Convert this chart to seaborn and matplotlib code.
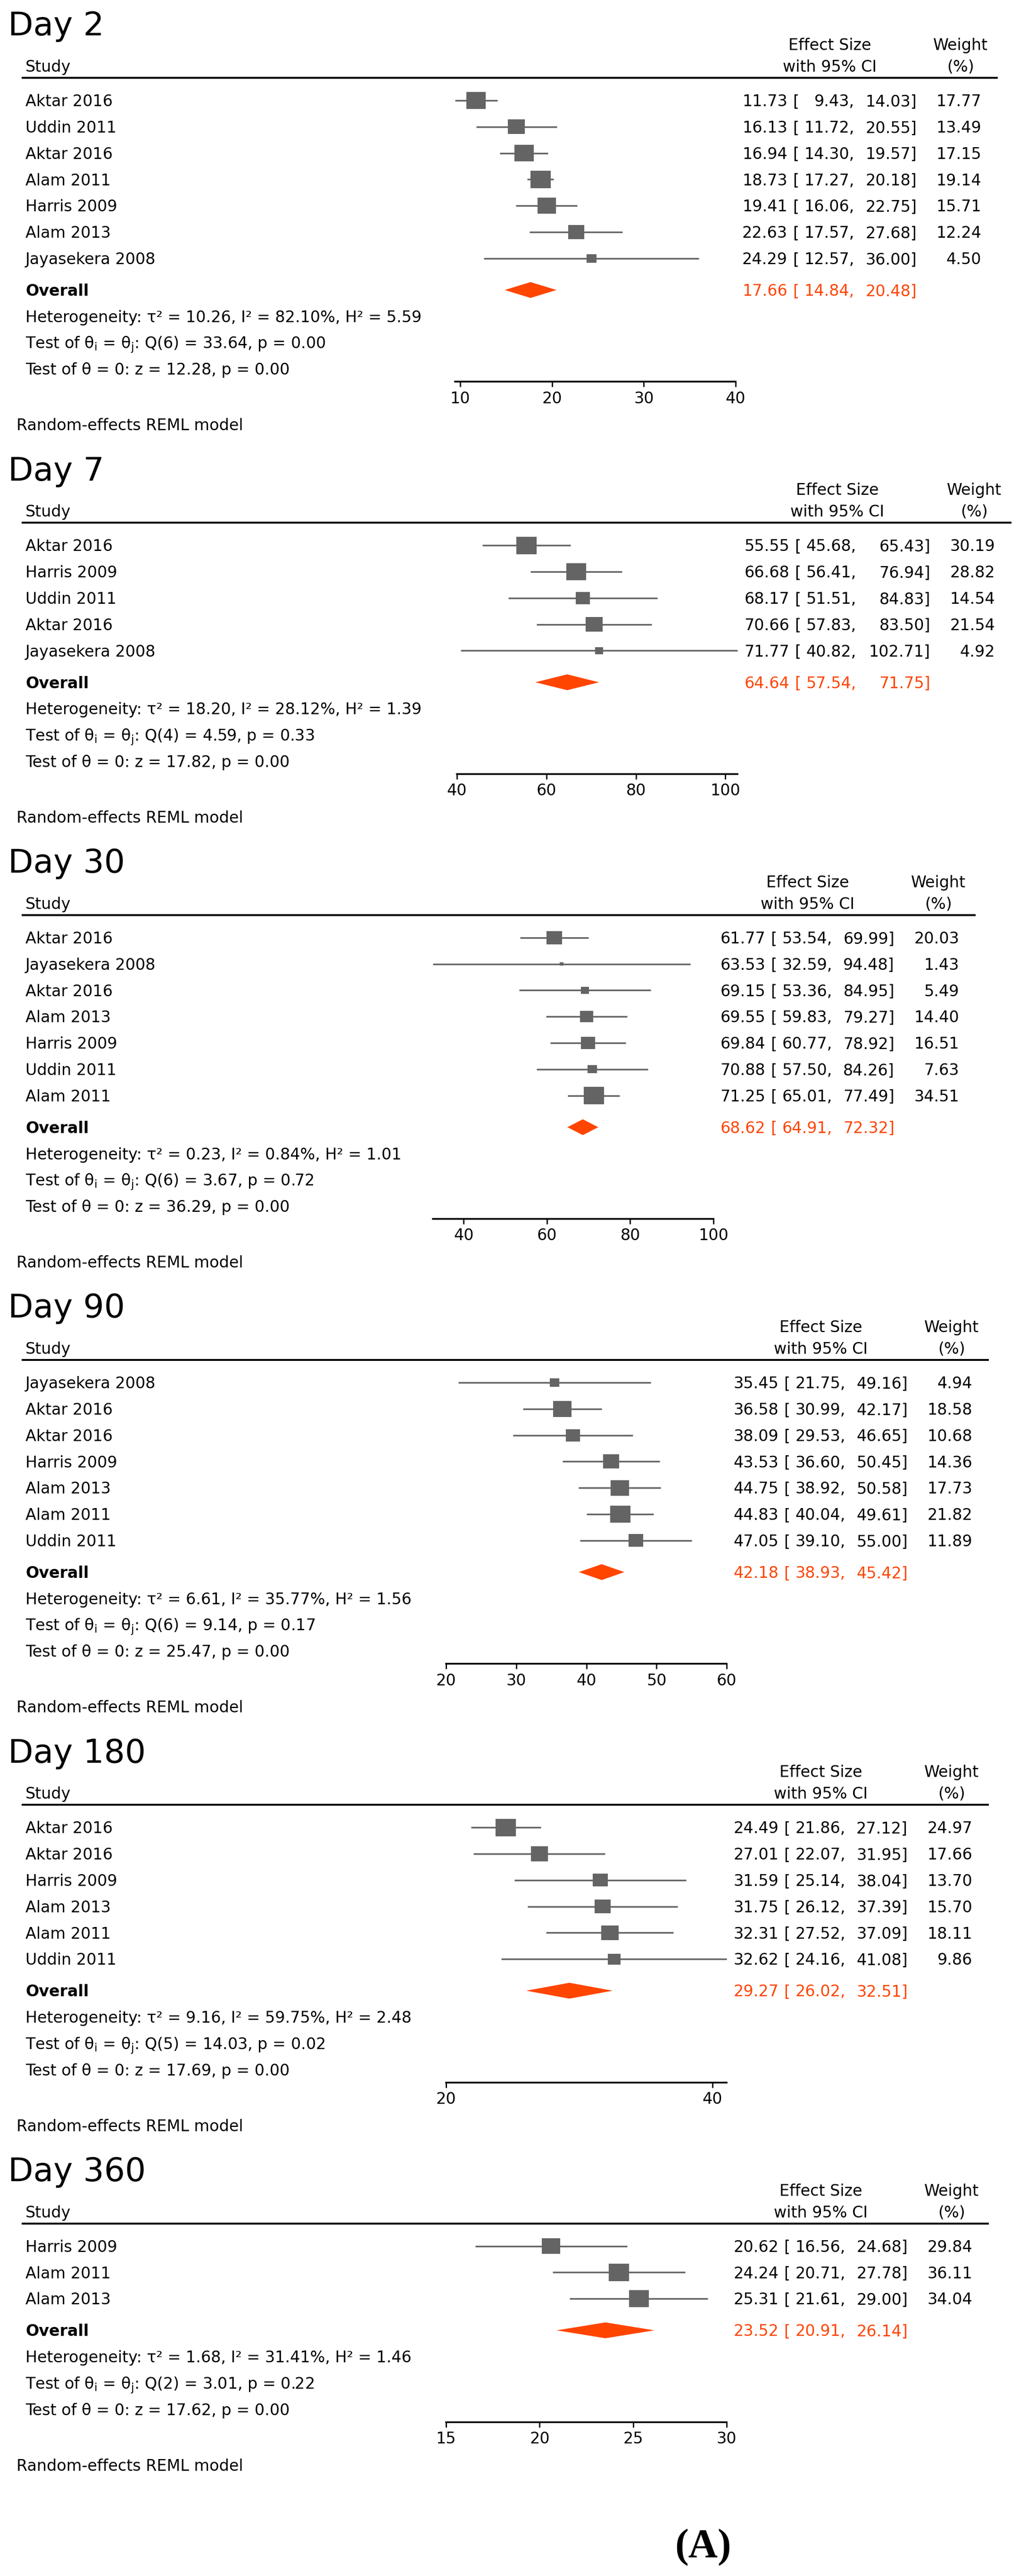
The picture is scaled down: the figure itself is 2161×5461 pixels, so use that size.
import numpy as np
import matplotlib
matplotlib.use("Agg")
import matplotlib.pyplot as plt
from matplotlib.lines import Line2D
from matplotlib.path import Path
import seaborn as sns

# ---------------- data ----------------
day2_studies = ["Aktar 2016", "Uddin 2011", "Aktar 2016", "Alam 2011", "Harris 2009", "Alam 2013", "Jayasekera 2008"]
day2_es = [11.73, 16.13, 16.94, 18.73, 19.41, 22.63, 24.29]
day2_lo = [9.43, 11.72, 14.30, 17.27, 16.06, 17.57, 12.57]
day2_hi = [14.03, 20.55, 19.57, 20.18, 22.75, 27.68, 36.00]
day2_wt = [17.77, 13.49, 17.15, 19.14, 15.71, 12.24, 4.50]
day2_overall = [17.66, 14.84, 20.48]
day2_het = [10.26, 82.10, 5.59]
day2_q = [6, 33.64, 0.00]
day2_z = [12.28, 0.00]
day2_ticks = [10, 20, 30, 40]

day7_studies = ["Aktar 2016", "Harris 2009", "Uddin 2011", "Aktar 2016", "Jayasekera 2008"]
day7_es = [55.55, 66.68, 68.17, 70.66, 71.77]
day7_lo = [45.68, 56.41, 51.51, 57.83, 40.82]
day7_hi = [65.43, 76.94, 84.83, 83.50, 102.71]
day7_wt = [30.19, 28.82, 14.54, 21.54, 4.92]
day7_overall = [64.64, 57.54, 71.75]
day7_het = [18.20, 28.12, 1.39]
day7_q = [4, 4.59, 0.33]
day7_z = [17.82, 0.00]
day7_ticks = [40, 60, 80, 100]

day30_studies = ["Aktar 2016", "Jayasekera 2008", "Aktar 2016", "Alam 2013", "Harris 2009", "Uddin 2011", "Alam 2011"]
day30_es = [61.77, 63.53, 69.15, 69.55, 69.84, 70.88, 71.25]
day30_lo = [53.54, 32.59, 53.36, 59.83, 60.77, 57.50, 65.01]
day30_hi = [69.99, 94.48, 84.95, 79.27, 78.92, 84.26, 77.49]
day30_wt = [20.03, 1.43, 5.49, 14.40, 16.51, 7.63, 34.51]
day30_overall = [68.62, 64.91, 72.32]
day30_het = [0.23, 0.84, 1.01]
day30_q = [6, 3.67, 0.72]
day30_z = [36.29, 0.00]
day30_ticks = [40, 60, 80, 100]

day90_studies = ["Jayasekera 2008", "Aktar 2016", "Aktar 2016", "Harris 2009", "Alam 2013", "Alam 2011", "Uddin 2011"]
day90_es = [35.45, 36.58, 38.09, 43.53, 44.75, 44.83, 47.05]
day90_lo = [21.75, 30.99, 29.53, 36.60, 38.92, 40.04, 39.10]
day90_hi = [49.16, 42.17, 46.65, 50.45, 50.58, 49.61, 55.00]
day90_wt = [4.94, 18.58, 10.68, 14.36, 17.73, 21.82, 11.89]
day90_overall = [42.18, 38.93, 45.42]
day90_het = [6.61, 35.77, 1.56]
day90_q = [6, 9.14, 0.17]
day90_z = [25.47, 0.00]
day90_ticks = [20, 30, 40, 50, 60]

day180_studies = ["Aktar 2016", "Aktar 2016", "Harris 2009", "Alam 2013", "Alam 2011", "Uddin 2011"]
day180_es = [24.49, 27.01, 31.59, 31.75, 32.31, 32.62]
day180_lo = [21.86, 22.07, 25.14, 26.12, 27.52, 24.16]
day180_hi = [27.12, 31.95, 38.04, 37.39, 37.09, 41.08]
day180_wt = [24.97, 17.66, 13.70, 15.70, 18.11, 9.86]
day180_overall = [29.27, 26.02, 32.51]
day180_het = [9.16, 59.75, 2.48]
day180_q = [5, 14.03, 0.02]
day180_z = [17.69, 0.00]
day180_ticks = [20, 40]

day360_studies = ["Harris 2009", "Alam 2011", "Alam 2013"]
day360_es = [20.62, 24.24, 25.31]
day360_lo = [16.56, 20.71, 21.61]
day360_hi = [24.68, 27.78, 29.00]
day360_wt = [29.84, 36.11, 34.04]
day360_overall = [23.52, 20.91, 26.14]
day360_het = [1.68, 31.41, 1.46]
day360_q = [2, 3.01, 0.22]
day360_z = [17.62, 0.00]
day360_ticks = [15, 20, 25, 30]

panel_titles = ["Day 2", "Day 7", "Day 30", "Day 90", "Day 180", "Day 360"]
panels = [
    (day2_studies, day2_es, day2_lo, day2_hi, day2_wt, day2_overall, day2_het, day2_q, day2_z, day2_ticks),
    (day7_studies, day7_es, day7_lo, day7_hi, day7_wt, day7_overall, day7_het, day7_q, day7_z, day7_ticks),
    (day30_studies, day30_es, day30_lo, day30_hi, day30_wt, day30_overall, day30_het, day30_q, day30_z, day30_ticks),
    (day90_studies, day90_es, day90_lo, day90_hi, day90_wt, day90_overall, day90_het, day90_q, day90_z, day90_ticks),
    (day180_studies, day180_es, day180_lo, day180_hi, day180_wt, day180_overall, day180_het, day180_q, day180_z, day180_ticks),
    (day360_studies, day360_es, day360_lo, day360_hi, day360_wt, day360_overall, day360_het, day360_q, day360_z, day360_ticks),
]

# ---------------- layout / style ----------------
W, H = 2161, 5461
DPI = 100
PX = DPI / 72.0
FS = 24
GRAY = "#646464"
ORANGE = "#FF4500"
AX_LEFT = [965, 969, 918, 946, 946, 946]
AX_W = 595
ROW = 55.8

sns.set_theme(style="ticks")
plt.rcParams["font.family"] = ["DejaVu Sans"]
plt.rcParams["mathtext.fontset"] = "dejavusans"
plt.rcParams["text.color"] = "black"
plt.rcParams["xtick.color"] = "black"
plt.rcParams["axes.edgecolor"] = "black"

fig = plt.figure(figsize=(W / DPI, H / DPI), dpi=DPI)
fig.patch.set_facecolor("white")

RECT = Path([(-1, -0.86), (1, -0.86), (1, 0.86), (-1, 0.86), (-1, -0.86)], closed=True)


def txt(x, y, s, size=FS, ha="left", color="black", weight="normal", family=None):
    base = y + 0.729 * size * PX / 2.0
    kw = {}
    if family is not None:
        kw["family"] = family
    fig.text(x / W, 1 - base / H, s, fontsize=size, ha=ha, va="baseline",
             color=color, fontweight=weight, **kw)


def hrule(x0, x1, y, lw):
    fig.add_artist(Line2D([x0 / W, x1 / W], [1 - y / H, 1 - y / H],
                          transform=fig.transFigure, color="black", lw=lw,
                          solid_capstyle="butt"))


P = 50
for k, (studies, es, lo, hi, wt, ov, het, q, z, ticks) in enumerate(panels):
    n = len(studies)
    L = AX_LEFT[k]
    R = L + AX_W
    extra = 25 if max(hi) >= 100 else 0
    hl_y = P + 115
    rows_y = P + 163 + ROW * np.arange(n)
    ov_y = rows_y[-1] + 67
    stats_y = ov_y + ROW * np.arange(1, 4)
    axis_y = stats_y[-1] + 27
    re_y = axis_y + 91

    col_es = R + 110
    col_br = R + 121
    col_lo = R + 252
    col_hi = R + 384 + extra
    col_wt = R + 521 + extra
    es_center = (col_es - 95 + col_hi) / 2.0

    # headers
    txt(17, P, panel_titles[k], size=50)
    txt(54, P + 90, "Study")
    txt(es_center, P + 44, "Effect Size", ha="center")
    txt(es_center, P + 90, "with 95% CI", ha="center")
    txt(col_wt - 44, P + 44, "Weight", ha="center")
    txt(col_wt - 44, P + 90, "(%)", ha="center")
    hrule(46, R + 556 + extra, hl_y, 2.9)

    # study rows
    for i in range(n):
        y = rows_y[i]
        txt(54, y, studies[i])
        txt(col_es, y, f"{es[i]:.2f}", ha="right")
        txt(col_br, y, "[")
        txt(col_lo, y, f"{lo[i]:.2f},", ha="right")
        txt(col_hi, y, f"{hi[i]:.2f}]", ha="right")
        txt(col_wt, y, f"{wt[i]:.2f}", ha="right")

    # overall
    txt(54, ov_y, "Overall", weight="bold")
    txt(col_es, ov_y, f"{ov[0]:.2f}", ha="right", color=ORANGE)
    txt(col_br, ov_y, "[", color=ORANGE)
    txt(col_lo, ov_y, f"{ov[1]:.2f},", ha="right", color=ORANGE)
    txt(col_hi, ov_y, f"{ov[2]:.2f}]", ha="right", color=ORANGE)

    # statistics
    txt(54, stats_y[0], f"Heterogeneity: τ² = {het[0]:.2f}, I² = {het[1]:.2f}%, H² = {het[2]:.2f}")
    txt(54, stats_y[1], "Test of θ$_\\mathrm{i}$ = θ$_\\mathrm{j}$: " + f"Q({q[0]}) = {q[1]:.2f}, p = {q[2]:.2f}")
    txt(54, stats_y[2], f"Test of θ = 0: z = {z[0]:.2f}, p = {z[1]:.2f}")
    txt(35, re_y, "Random-effects REML model")

    # forest axes
    xmin = min(min(lo), ticks[0])
    xmax = max(max(hi), ticks[-1])
    top = hl_y
    ax = fig.add_axes([L / W, 1 - axis_y / H, AX_W / W, (axis_y - top) / H])
    ax.patch.set_alpha(0)
    ax.hlines(rows_y, lo, hi, color=GRAY, lw=2.5, zorder=2, clip_on=False)
    sizes = 958.0 * np.array(wt) / max(wt)
    sns.scatterplot(x=np.array(es), y=rows_y, s=sizes, marker=RECT, color=GRAY,
                    linewidth=0, ax=ax, zorder=3, clip_on=False, legend=False)
    hh = 16.8
    ax.fill([ov[1], ov[0], ov[2], ov[0]], [ov_y, ov_y - hh, ov_y, ov_y + hh],
            color=ORANGE, lw=0, zorder=3, clip_on=False)
    ax.set_xlim(xmin, xmax)
    ax.set_ylim(axis_y, top)
    ax.set_xticks(ticks)
    ax.set_yticks([])
    ax.set_xlabel("")
    ax.set_ylabel("")
    sns.despine(ax=ax, left=True, top=True, right=True)
    ax.spines["bottom"].set_linewidth(2.6)
    ax.spines["bottom"].set_color("black")
    ax.tick_params(axis="x", length=8, width=2, labelsize=FS, pad=6,
                   direction="out", color="black", labelcolor="black")

    P = re_y + 93

txt(1491, 5389, "(A)", size=62, ha="center", weight="bold", family="Liberation Serif")

fig.savefig("out.png", dpi=DPI, facecolor="white")
